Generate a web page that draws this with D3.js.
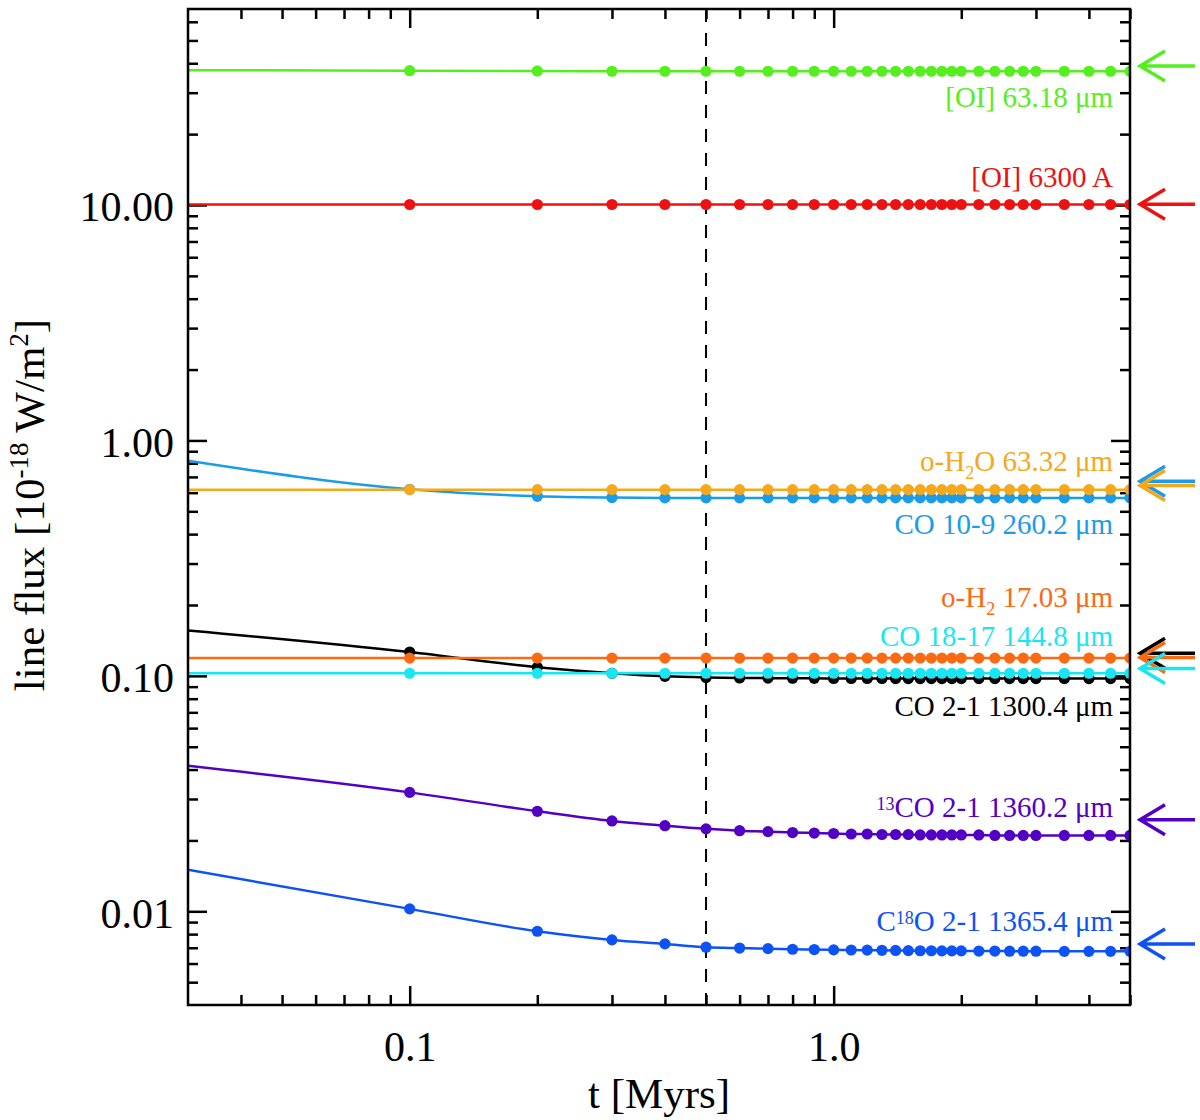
<!DOCTYPE html>
<html>
<head>
<meta charset="utf-8">
<script src="https://cdn.jsdelivr.net/npm/d3@7"></script>
<style>
  body { margin: 0; background: #fff; }
  svg text { font-family: "Liberation Serif", "DejaVu Serif", serif; }
</style>
</head>
<body>
<svg id="chart" width="1200" height="1120"></svg>
<script>
// time grid of the model runs (dots); lines also start at tStart
const tStart = 0.03;
const tDots = [0.1, 0.2, 0.3, 0.4, 0.5, 0.6, 0.7, 0.8, 0.9, 1.0,
  1.1, 1.2, 1.3, 1.4, 1.5, 1.6, 1.7, 1.8, 1.9, 2.0,
  2.2, 2.4, 2.6, 2.8, 3.0, 3.5, 4.0, 4.5, 5.0];

// line fluxes [1e-18 W/m2]; first value is at tStart, rest at tDots
const oi63 = [37.4, 37.2, 37.1, 37.0, 37.0, 37.0, 37.0, 37.0, 37.0, 37.0, 37.0,
  37.0, 37.0, 37.0, 37.0, 37.0, 37.0, 37.0, 37.0, 37.0, 37.0,
  37.0, 37.0, 37.0, 37.0, 37.0, 37.0, 37.0, 37.0, 37.0];
const oi6300 = [10.05, 10.05, 10.05, 10.05, 10.05, 10.05, 10.05, 10.05, 10.05, 10.05, 10.05,
  10.05, 10.05, 10.05, 10.05, 10.05, 10.05, 10.05, 10.05, 10.05, 10.05,
  10.05, 10.05, 10.05, 10.05, 10.05, 10.05, 10.05, 10.05, 10.05];
const co109 = [0.82, 0.620, 0.579, 0.572, 0.570, 0.570, 0.570, 0.570, 0.570, 0.570, 0.570,
  0.570, 0.570, 0.570, 0.570, 0.570, 0.570, 0.570, 0.570, 0.570, 0.570,
  0.570, 0.570, 0.570, 0.570, 0.570, 0.570, 0.570, 0.570, 0.570];
const oh2o = [0.618, 0.618, 0.618, 0.618, 0.618, 0.618, 0.618, 0.618, 0.618, 0.618, 0.618,
  0.618, 0.618, 0.618, 0.618, 0.618, 0.618, 0.618, 0.618, 0.618, 0.618,
  0.618, 0.618, 0.618, 0.618, 0.618, 0.618, 0.618, 0.618, 0.618];
const co21 = [0.156, 0.1263, 0.1088, 0.1026, 0.0996, 0.0985, 0.0980, 0.0978, 0.0977, 0.0976, 0.0975,
  0.0975, 0.0975, 0.0975, 0.0974, 0.0974, 0.0974, 0.0974, 0.0974, 0.0974, 0.0974,
  0.0974, 0.0974, 0.0974, 0.0974, 0.0974, 0.0974, 0.0974, 0.0974, 0.0974];
const oh2 = [0.119, 0.119, 0.119, 0.119, 0.119, 0.119, 0.119, 0.119, 0.119, 0.119, 0.119,
  0.119, 0.119, 0.119, 0.119, 0.119, 0.119, 0.119, 0.119, 0.119, 0.119,
  0.119, 0.119, 0.119, 0.119, 0.119, 0.119, 0.119, 0.119, 0.119];
const co1817 = [0.1026, 0.1026, 0.1026, 0.1026, 0.1026, 0.1026, 0.1026, 0.1026, 0.1026, 0.1026, 0.1026,
  0.1026, 0.1026, 0.1026, 0.1026, 0.1026, 0.1026, 0.1026, 0.1026, 0.1026, 0.1026,
  0.1026, 0.1026, 0.1026, 0.1026, 0.1026, 0.1026, 0.1026, 0.1026, 0.1026];
const co13 = [0.0415, 0.0320, 0.0266, 0.0242, 0.0231, 0.0224, 0.0220, 0.0218, 0.0216, 0.0215, 0.0214,
  0.0213, 0.0213, 0.0212, 0.0212, 0.0212, 0.0211, 0.0211, 0.0211, 0.0211, 0.0211,
  0.0211, 0.0210, 0.0210, 0.0210, 0.0210, 0.0210, 0.0210, 0.0210, 0.0210];
const c18o = [0.0150, 0.01024, 0.00823, 0.00756, 0.00727, 0.00704, 0.00698, 0.00694, 0.00690, 0.00688, 0.00686,
  0.00685, 0.00684, 0.00683, 0.00682, 0.00681, 0.00680, 0.00680, 0.00679, 0.00679, 0.00679,
  0.00678, 0.00678, 0.00677, 0.00677, 0.00677, 0.00676, 0.00676, 0.00676, 0.00676];

// reference values marked by arrows on the right
const arrowValues = [38.9, 10.07, 0.671, 0.643, 0.1247, 0.1196, 0.1074, 0.0245, 0.00727];

// drawing order (later on top)
const seriesValues = [oi63, oi6300, co109, oh2o, co21, oh2, co1817, co13, c18o];
const seriesColors = ['#55ee1e', '#ec1212', '#1a9ce8', '#f6a81c', '#000000', '#fa6a12', '#1ae6f2', '#5200c4', '#0c52f5'];
// label text pieces: [text, kind]  kind: '' | 'sup' | 'sub'
const seriesLabels = [
  [['[OI] 63.18 μm', '']],
  [['[OI] 6300 A', '']],
  [['CO 10-9 260.2 μm', '']],
  [['o-H', ''], ['2', 'sub'], ['O 63.32 μm', '']],
  [['CO 2-1 1300.4 μm', '']],
  [['o-H', ''], ['2', 'sub'], [' 17.03 μm', '']],
  [['CO 18-17 144.8 μm', '']],
  [['13', 'sup'], ['CO 2-1 1360.2 μm', '']],
  [['C', ''], ['18', 'sup'], ['O 2-1 1365.4 μm', '']]
];
// label baseline offset (px) from the line's last point
const labelOffsets = [36, -17, 36, -19, 37, -51, -27, -18, -20];

const xMajor = [0.1, 1.0];
const xMinor = [0.04, 0.05, 0.06, 0.07, 0.08, 0.09, 0.2, 0.3, 0.4, 0.5, 0.6, 0.7, 0.8, 0.9, 2, 3, 4, 5];
const yMajor = [0.01, 0.1, 1, 10];
const yMajorLabels = ['0.01', '0.10', '1.00', '10.00'];
const yMinor = [0.005, 0.006, 0.007, 0.008, 0.009, 0.02, 0.03, 0.04, 0.05, 0.06, 0.07, 0.08, 0.09,
  0.2, 0.3, 0.4, 0.5, 0.6, 0.7, 0.8, 0.9, 2, 3, 4, 5, 6, 7, 8, 9, 20, 30, 40, 50, 60];
const tMark = 0.5;

const margin = {left: 188, top: 9, right: 70, bottom: 115};
const W = 1200 - margin.left - margin.right;
const H = 1120 - margin.top - margin.bottom;

const svg = d3.select('#chart');
const g = svg.append('g').attr('transform', `translate(${margin.left},${margin.top})`);

const x = d3.scaleLog().domain([0.03, 5]).range([0, W]);
const y = d3.scaleLog().domain([0.004, 68]).range([H, 0]);

// clip for the data
svg.append('defs').append('clipPath').attr('id', 'clip')
  .append('rect').attr('width', W).attr('height', H);

// ticks: all four sides, pointing inward
function styleAxis(sel) {
  sel.select('.domain').remove();
  sel.selectAll('line').attr('stroke', '#000').attr('stroke-width', 2.5);
}
const fmtNone = () => '';
g.append('g').attr('transform', `translate(0,${H})`)
  .call(d3.axisBottom(x).tickValues(xMinor).tickSize(-10).tickFormat(fmtNone)).call(styleAxis);
g.append('g')
  .call(d3.axisTop(x).tickValues(xMinor).tickSize(-10).tickFormat(fmtNone)).call(styleAxis);
g.append('g').call(d3.axisTop(x).tickValues(xMajor).tickSize(-19).tickFormat(fmtNone)).call(styleAxis);
const xAx = g.append('g').attr('transform', `translate(0,${H})`)
  .call(d3.axisBottom(x).tickValues(xMajor).tickSize(-19).tickPadding(26).tickFormat(d3.format('.1f')))
  .call(styleAxis);
xAx.selectAll('text').attr('font-size', 42).attr('fill', '#000')
  .style('font-family', '"Liberation Serif", serif');

g.append('g').call(d3.axisLeft(y).tickValues(yMinor).tickSize(-10).tickFormat(fmtNone)).call(styleAxis);
g.append('g').attr('transform', `translate(${W},0)`)
  .call(d3.axisRight(y).tickValues(yMinor).tickSize(-10).tickFormat(fmtNone)).call(styleAxis);
g.append('g').attr('transform', `translate(${W},0)`)
  .call(d3.axisRight(y).tickValues(yMajor).tickSize(-19).tickFormat(fmtNone)).call(styleAxis);
const yAx = g.append('g')
  .call(d3.axisLeft(y).tickValues(yMajor).tickSize(-19).tickPadding(14)
    .tickFormat((d, i) => yMajorLabels[i]))
  .call(styleAxis);
yAx.selectAll('text').attr('font-size', 42).attr('fill', '#000').attr('dy', '0.38em')
  .style('font-family', '"Liberation Serif", serif');

// dashed marker
g.append('line')
  .attr('x1', x(tMark)).attr('x2', x(tMark))
  .attr('y1', 0).attr('y2', H)
  .attr('stroke', '#000').attr('stroke-width', 2)
  .attr('stroke-dasharray', '13,11');

// series
const tLine = [tStart].concat(tDots);
const line = d3.line()
  .x((d, i) => x(tLine[i]))
  .y(d => y(d))
  .curve(d3.curveMonotoneX);
const plot = g.append('g').attr('clip-path', 'url(#clip)');
seriesValues.forEach((vals, si) => {
  const col = seriesColors[si];
  plot.append('path')
    .datum(vals)
    .attr('d', line)
    .attr('fill', 'none')
    .attr('stroke', col)
    .attr('stroke-width', 2.5);
  plot.append('g').selectAll('circle')
    .data(vals.slice(1))
    .join('circle')
    .attr('cx', (d, i) => x(tDots[i]))
    .attr('cy', d => y(d))
    .attr('r', 5.6)
    .attr('fill', col);
});

// labels
seriesLabels.forEach((parts, si) => {
  const vals = seriesValues[si];
  const t = g.append('text')
    .attr('x', W - 17)
    .attr('y', y(vals[vals.length - 1]) + labelOffsets[si])
    .attr('text-anchor', 'end')
    .attr('font-size', 29)
    .attr('fill', seriesColors[si]);
  let shift = 0;
  parts.forEach(([txt, kind]) => {
    const target = kind === 'sup' ? -7 : kind === 'sub' ? 8 : 0;
    t.append('tspan')
      .attr('dy', target - shift)
      .attr('font-size', kind ? 18 : 29)
      .text(txt);
    shift = target;
  });
});

// arrows
arrowValues.forEach((v, i) => {
  const yy = y(v);
  const tip = W + 10;
  g.append('path')
    .attr('d', `M${tip + 55},${yy}L${tip},${yy}M${tip + 25},${yy - 15}L${tip},${yy}L${tip + 25},${yy + 15}`)
    .attr('fill', 'none')
    .attr('stroke', seriesColors[i])
    .attr('stroke-width', 3.5);
});

// frame
g.append('rect').attr('width', W).attr('height', H)
  .attr('fill', 'none').attr('stroke', '#000').attr('stroke-width', 2.5);

// axis titles
svg.append('text')
  .attr('x', margin.left + W / 2).attr('y', 1108)
  .attr('text-anchor', 'middle').attr('font-size', 43)
  .text('t [Myrs]');

const yt = svg.append('text')
  .attr('transform', `translate(44,${margin.top + H / 2 - 2}) rotate(-90)`)
  .attr('text-anchor', 'middle').attr('font-size', 43);
yt.append('tspan').text('line flux [10');
yt.append('tspan').attr('dy', -16).attr('font-size', 27).text('-18');
yt.append('tspan').attr('dy', 16).text(' W/m');
yt.append('tspan').attr('dy', -16).attr('font-size', 27).text('2');
yt.append('tspan').attr('dy', 16).text(']');
</script>
</body>
</html>
